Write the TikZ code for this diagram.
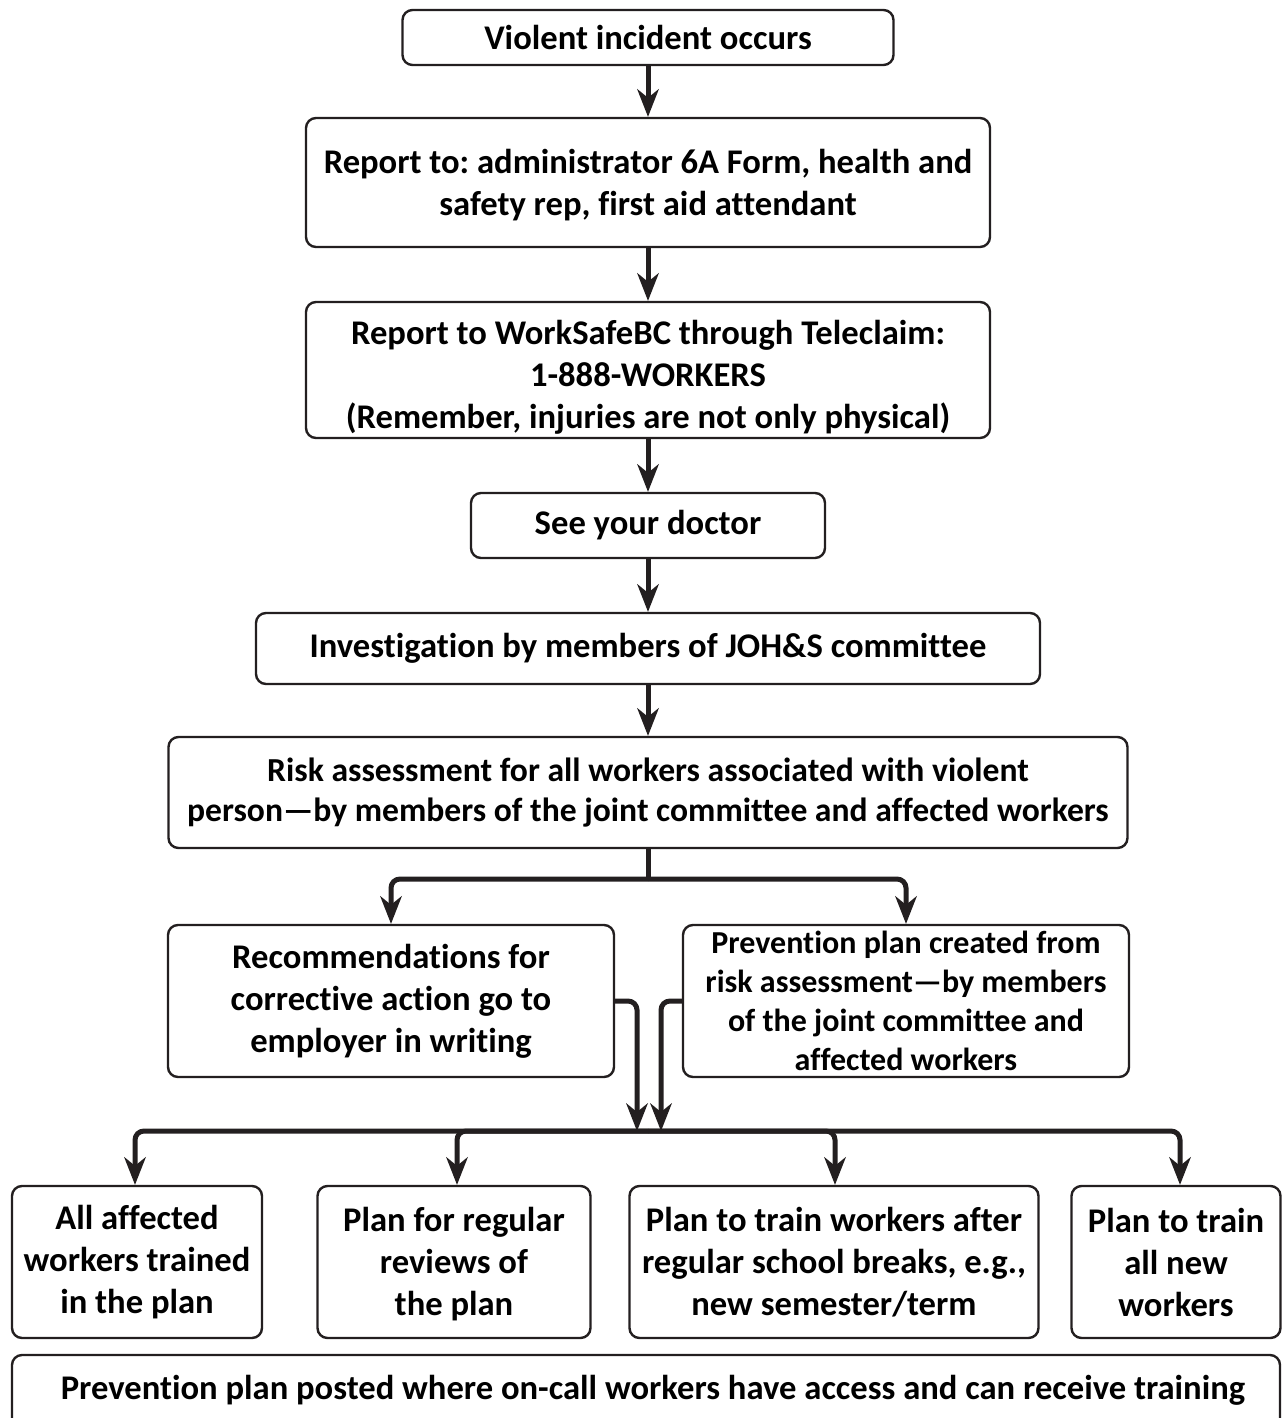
\documentclass[tikz,border=0pt]{standalone}
\usepackage{fontspec}
\setmainfont{Carlito}[Ligatures={NoCommon,NoContextual}]
\usetikzlibrary{arrows.meta,calc}
\definecolor{ink}{HTML}{231F20}
\newcommand{\lowered}[2]{\raisebox{#1}[\height][\depth]{\begin{tabular}{@{}c@{}}#2\end{tabular}}}
\frenchspacing
\begin{document}
\begin{tikzpicture}[x=1pt,y=-1pt,
  box/.style={draw=ink, line width=2.4pt, rounded corners=10pt, align=center,
    inner sep=0pt, font=\fontsize{34.6}{42}\selectfont\bfseries, text=black},
  link/.style={draw=ink, line width=5pt},
  arr/.style={link, -{Stealth[length=28pt,width=22pt,inset=9pt,line width=0pt]}},
  roundjoin/.style={rounded corners=9pt}]
\useasboundingbox (0,0) rectangle (1282,1418);

\node[box, minimum width=491pt, minimum height=55pt] (v1) at (648,37.5) {Violent incident occurs};
\node[box, minimum width=684pt, minimum height=129pt] (r1) at (648,182.5)
  {\lowered{-4pt}{Report to: administrator 6A Form, health and\\safety rep, first aid attendant}};
\node[box, minimum width=684pt, minimum height=136pt] (ws) at (648,370)
  {\lowered{-8pt}{Report to WorkSafeBC through Teleclaim:\\1-888-WORKERS\\(Remember, injuries are not only physical)}};
\node[box, minimum width=354pt, minimum height=65pt] (doc) at (648,525.5) {See your doctor};
\node[box, minimum width=784pt, minimum height=71pt] (inv) at (648,648.5)
  {Investigation by members of JOH\&S committee};
\node[box, minimum width=959pt, minimum height=111pt, font=\fontsize{33.6}{40}\selectfont\bfseries] (risk) at (648,792.5)
  {Risk assessment for all workers associated with violent\\person—by members of the joint committee and affected workers};
\node[box, minimum width=446pt, minimum height=152pt] (rec) at (391,1001)
  {Recommendations for\\corrective action go to\\employer in writing};
\node[box, minimum width=446pt, minimum height=152pt, font=\fontsize{32}{39}\selectfont\bfseries] (prev) at (906,1001)
  {Prevention plan created from\\risk assessment—by members\\of the joint committee and\\affected workers};
\node[box, minimum width=250pt, minimum height=152pt] (aff) at (137,1262)
  {All affected\\workers trained\\in the plan};
\node[box, minimum width=273pt, minimum height=152pt] (rev) at (454,1262)
  {\lowered{-3pt}{Plan for regular\\reviews of\\the plan}};
\node[box, minimum width=409pt, minimum height=152pt] (brk) at (834,1262)
  {Plan to train workers after\\regular school breaks, e.g.,\\new semester/term};
\node[box, minimum width=209pt, minimum height=152pt] (new) at (1176,1262)
  {Plan to train\\all new\\workers};
\node[box, minimum width=1268pt, minimum height=76pt] (post) at (646,1393)
  {\lowered{2pt}{\hspace*{14pt}Prevention plan posted where on-call workers have access and can receive training}};

% main column
\draw[arr] (v1.south) -- (r1.north);
\draw[arr] (r1.south) -- (ws.north);
\draw[arr] (ws.south) -- (doc.north);
\draw[arr] (doc.south) -- (inv.north);
\draw[arr] (inv.south) -- (risk.north);

% split
\coordinate (split) at (648,879);
\draw[link] (risk.south) -- (split);
\draw[arr, roundjoin] (split) -| (rec.north);
\draw[arr, roundjoin] (split) -| (prev.north);

% merge into bottom bar
\coordinate (bar) at (648,1131);
\coordinate (inL) at (637,1131);
\coordinate (inR) at (661,1131);
\draw[arr, roundjoin] (rec.east) -| (inL);
\draw[arr, roundjoin] (prev.west) -| (inR);
\draw[arr, roundjoin] (bar) -| ($(aff.north)+(-2,0)$);
\draw[arr, roundjoin] (bar) -| ($(rev.north)+(3,0)$);
\draw[arr, roundjoin] (bar) -| ($(brk.north)+(1,0)$);
\draw[arr, roundjoin] (bar) -| ($(new.north)+(4,0)$);
\end{tikzpicture}
\end{document}
